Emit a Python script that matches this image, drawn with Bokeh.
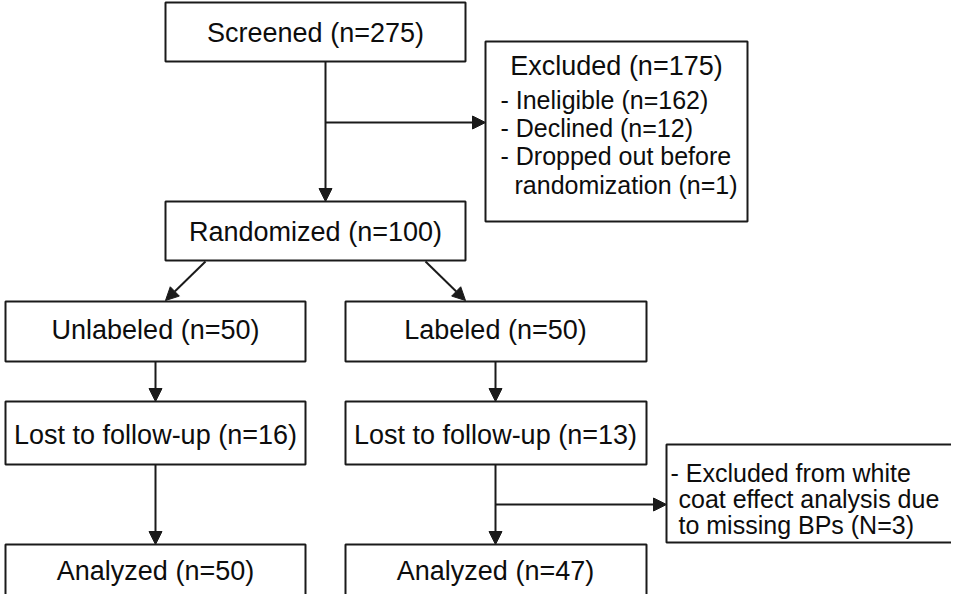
from bokeh.plotting import figure
from bokeh.models import Range1d, Arrow, NormalHead
from bokeh.core.properties import value
from bokeh.embed import file_html
from bokeh.resources import INLINE

# ---- data (labels / counts) ----
stage_labels = ["Screened (n=275)", "Randomized (n=100)",
                "Unlabeled (n=50)", "Labeled (n=50)",
                "Lost to follow-up (n=16)", "Lost to follow-up (n=13)",
                "Analyzed (n=50)", "Analyzed (n=47)"]
excluded_title = ["Excluded (n=175)"]
excluded_lines = ["- Ineligible (n=162)", "- Declined (n=12)", "- Dropped out before"]
excluded_cont = ["randomization (n=1)"]
wc_first = ["- Excluded from white"]
wc_lines = ["coat effect analysis due", "to missing BPs (N=3)"]

# ---- layout (pixel coordinates of the drawing) ----
stage_left = [173, 173, 13, 353, 13, 353, 13, 353]
stage_right = [473, 473, 313, 654, 313, 654, 313, 654]
stage_top = [10, 209, 309, 309, 409, 409, 552, 552]
stage_bottom = [69, 268, 369, 369, 472, 472, 615, 615]
stage_tx = [323, 323, 163, 503, 163, 503, 163, 503]
stage_ty = [40, 239, 337, 337, 442, 442, 578, 578]

side_left = [493, 674]
side_right = [755, 985]
side_top = [49, 452]
side_bottom = [229, 550]

FONT = value("Liberation Sans")
LC = "#1a1a1a"
TC = "#0d0d0d"

p = figure(width=951, height=594, output_backend="svg", toolbar_location=None,
           x_range=Range1d(8, 959), y_range=Range1d(602, 8),
           min_border=0, outline_line_color=None)
p.axis.visible = False
p.grid.visible = False
p.background_fill_color = "white"

p.quad(left=stage_left, right=stage_right, top=stage_top, bottom=stage_bottom,
       fill_color="white", line_color=LC, line_width=2)
p.quad(left=side_left, right=side_right, top=side_top, bottom=side_bottom,
       fill_color="white", line_color=LC, line_width=2)

p.text(x=stage_tx, y=stage_ty, text=stage_labels, text_align="center",
       text_baseline="middle", text_font=FONT, text_font_size="27px", text_color=TC)
p.text(x=[624], y=[73], text=excluded_title, text_align="center",
       text_baseline="middle", text_font=FONT, text_font_size="27px", text_color=TC)
p.text(x=[508, 508, 508], y=[107, 135, 163], text=excluded_lines, text_align="left",
       text_baseline="middle", text_font=FONT, text_font_size="25px", text_color=TC)
p.text(x=[522], y=[192], text=excluded_cont, text_align="left",
       text_baseline="middle", text_font=FONT, text_font_size="25px", text_color=TC)
p.text(x=[678], y=[480], text=wc_first, text_align="left",
       text_baseline="middle", text_font=FONT, text_font_size="25px", text_color=TC)
p.text(x=[686, 686], y=[506, 532], text=wc_lines, text_align="left",
       text_baseline="middle", text_font=FONT, text_font_size="25px", text_color=TC)

# connectors
arrows = [
    (333, 69, 333, 209),
    (333, 130, 493, 130),
    (213, 269, 173, 308),
    (433, 269, 473, 308),
    (163, 369, 163, 409),
    (503, 369, 503, 409),
    (163, 472, 163, 552),
    (503, 472, 503, 552),
    (503, 512, 674, 512),
]
for x0, y0, x1, y1 in arrows:
    p.add_layout(Arrow(x_start=x0, y_start=y0, x_end=x1, y_end=y1,
                       line_color=LC, line_width=2,
                       end=NormalHead(size=13, fill_color=LC, line_color=LC, line_width=1)))

open("out.html", "w").write(file_html(p, INLINE))
